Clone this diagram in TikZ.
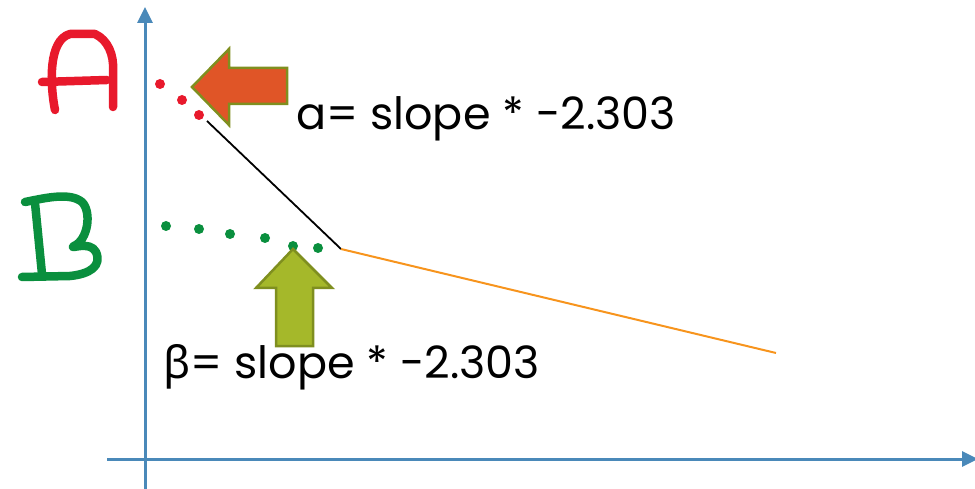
\documentclass[tikz,border=0pt]{standalone}
\usepackage{fontspec}
\setmainfont{Poppins}
\newfontfamily\grk{Noto Sans}
\usetikzlibrary{arrows.meta}
\definecolor{axisblue}{HTML}{4A89B9}
\definecolor{dotred}{HTML}{E8192C}
\definecolor{dotgreen}{HTML}{0A8F3E}
\definecolor{lineorange}{HTML}{F7941D}
\definecolor{arrorange}{HTML}{E05527}
\definecolor{arrolive}{HTML}{A5B82A}
\definecolor{edgeolive}{HTML}{7F8F1F}
\tikzset{
  axisline/.style={axisblue, line width=3pt, -{Triangle[length=16pt,width=15pt]}},
  reddot/.style={circle, fill=dotred, inner sep=0pt, minimum size=10pt},
  greendot/.style={circle, fill=dotgreen, inner sep=0pt, minimum size=10pt},
  bigarrow/.style={draw=edgeolive, line width=2.5pt, line join=miter},
  hand/.style={line width=8.5pt, line cap=round, line join=round},
  eqtext/.style={anchor=base west, inner sep=0pt, font=\fontsize{44.5}{48}\selectfont}
}
\begin{document}
\begin{tikzpicture}[x=1pt,y=-1pt]
\useasboundingbox (0,0) rectangle (975,489);
% axes
\coordinate (yb) at (145,489);
\coordinate (yt) at (145,7);
\coordinate (xl) at (107,459);
\coordinate (xr) at (978,459);
\draw[axisline] (yb) -- (yt);
\draw[axisline] (xl) -- (xr);
% handwritten A
\draw[hand, dotred] (55,110) .. controls (50,85) and (48,40) .. (70,34) -- (95,34) .. controls (108,40) and (114,55) .. (113,70) -- (113,107);
\draw[hand, dotred] (42,82) -- (107,80);
% handwritten B
\draw[hand, dotgreen] (35,203) -- (42,274);
\draw[hand, dotgreen] (25,202) .. controls (45,198) and (70,192) .. (82,202) .. controls (92,212) and (88,240) .. (74,246) .. controls (68,250) and (90,240) .. (96,252) .. controls (102,266) and (90,274) .. (70,276) -- (22,277);
% lines
\coordinate (l0) at (207,121);
\coordinate (l1) at (341,249);
\coordinate (l2) at (776,353);
\draw[black, line width=1.8pt] (l0) -- (l1);
\draw[lineorange, line width=2pt] (l1) -- (l2);
% dots
\node[reddot] (r1) at (160,84) {};
\node[reddot] (r2) at (182,100) {};
\node[reddot] (r3) at (199,115) {};
\node[greendot] (g1) at (166,226) {};
\node[greendot] (g2) at (199,229) {};
\node[greendot] (g3) at (230,234) {};
\node[greendot] (g4) at (265,238) {};
\node[greendot] (g5) at (293,246) {};
\node[greendot] (g6) at (318,248) {};
% orange arrow
\draw[bigarrow, fill=arrorange] (192,87) -- (229,49) -- (229,68) -- (287,68) -- (287,104) -- (229,104) -- (229,125) -- cycle;
% green arrow
\draw[bigarrow, fill=arrolive] (293,249) -- (332,288) -- (313,288) -- (313,346) -- (276,346) -- (276,288) -- (256,288) -- cycle;
% texts
\node[eqtext] (ta) at (296,130) {a= slope * -2.303};
\node[eqtext] (tb) at (163,378) {{\grk β}= slope * -2.303};
\end{tikzpicture}
\end{document}
